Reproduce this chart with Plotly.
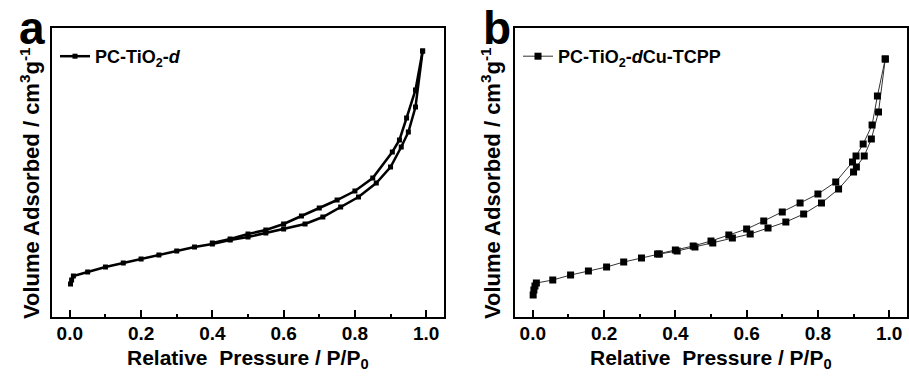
import plotly.graph_objects as go

# Panel a: PC-TiO2-d (relative volume units)
a_ads_p = [0.002, 0.005, 0.01, 0.05, 0.10, 0.15, 0.20, 0.25, 0.30, 0.35, 0.40, 0.45, 0.50, 0.55, 0.60,
           0.66, 0.71, 0.76, 0.81, 0.86, 0.90, 0.93, 0.95, 0.97, 0.99]
a_ads_v = [33, 37, 41, 45, 50, 54, 58, 62, 66, 70, 73, 77, 80, 84, 88,
           93, 100, 110, 120, 134, 150, 170, 185, 210, 266]
a_des_p = [0.99, 0.97, 0.945, 0.925, 0.905, 0.85, 0.80, 0.75, 0.70, 0.65, 0.60, 0.55, 0.50, 0.45, 0.40]
a_des_v = [266, 227, 199, 177, 165, 139, 126, 117, 109, 101, 93, 87, 83, 78, 74]

# Panel b: PC-TiO2-d/Cu-TCPP
b_ads_p = [0.001, 0.003, 0.006, 0.01, 0.056, 0.106, 0.156, 0.207, 0.255, 0.305, 0.355, 0.405, 0.455,
           0.505, 0.56, 0.61, 0.66, 0.71, 0.76, 0.81, 0.858, 0.90, 0.908, 0.93, 0.95, 0.97, 0.989]
b_ads_v = [22, 27, 31, 34, 37, 42, 46, 50, 55, 59, 63, 66, 70,
           74, 79, 83, 89, 95, 103, 114, 128, 145, 150, 161, 178, 205, 258]
b_des_p = [0.989, 0.967, 0.952, 0.927, 0.907, 0.897, 0.85, 0.80, 0.75, 0.70, 0.648, 0.60, 0.55,
           0.50, 0.45, 0.40, 0.35]
b_des_v = [258, 221, 192, 173, 161, 155, 135, 123, 114, 105, 96, 88, 82,
           76, 71, 67, 63]

x_ticks = [0.0, 0.2, 0.4, 0.6, 0.8, 1.0]
x_ticklabels = ["0.0", "0.2", "0.4", "0.6", "0.8", "1.0"]

name_a = "PC-TiO<sub>2</sub>-<i>d</i>"
name_b = "PC-TiO<sub>2</sub>-<i>d</i>Cu-TCPP"

W, H = 909, 383
ML, MR, MT, MB = 52, 2, 28, 66
PW = W - ML - MR
PH = H - MT - MB


def px(x):
    return (x - ML) / PW


def py(y):
    return (H - MB - y) / PH


fig = go.Figure()

# panel a
fig.add_trace(go.Scatter(
    x=a_ads_p, y=a_ads_v, mode="lines+markers", name=name_a,
    line=dict(color="black", width=2.5), marker=dict(symbol="square", size=5, color="black"),
    xaxis="x", yaxis="y", legend="legend"))
fig.add_trace(go.Scatter(
    x=a_des_p, y=a_des_v, mode="lines+markers", name=name_a, showlegend=False,
    line=dict(color="black", width=2.5), marker=dict(symbol="square", size=5, color="black"),
    xaxis="x", yaxis="y"))

# panel b
fig.add_trace(go.Scatter(
    x=b_ads_p, y=b_ads_v, mode="lines+markers", name=name_b,
    line=dict(color="#333333", width=1), marker=dict(symbol="square", size=7, color="black"),
    xaxis="x2", yaxis="y2", legend="legend2"))
fig.add_trace(go.Scatter(
    x=b_des_p, y=b_des_v, mode="lines+markers", name=name_b, showlegend=False,
    line=dict(color="#333333", width=1), marker=dict(symbol="square", size=7, color="black"),
    xaxis="x2", yaxis="y2"))

font_b = "Liberation Sans"

xax = dict(range=[-0.05, 1.05], tickvals=x_ticks, ticktext=x_ticklabels,
           ticks="inside", ticklen=7, tickwidth=2, tickcolor="black", ticklabelstandoff=-2,
           minor=dict(dtick=0.1, tick0=0, ticks="inside", ticklen=3, tickwidth=2, tickcolor="black"),
           showline=True, linecolor="black", linewidth=2, mirror=True,
           showgrid=False, zeroline=False,
           tickfont=dict(family=font_b, size=19, color="black", weight="bold"))
yax = dict(range=[0, 289], showticklabels=False, ticks="", showline=True, linecolor="black",
           linewidth=2, mirror=True, showgrid=False, zeroline=False)

legfont = dict(family=font_b, size=18, color="black", weight="bold")

fig.update_layout(
    width=W, height=H,
    margin=dict(l=ML, r=MR, t=MT, b=MB, autoexpand=False),
    paper_bgcolor="white", plot_bgcolor="white",
    xaxis=dict(domain=[0, px(444)], anchor="y", **xax),
    yaxis=dict(domain=[0, 1], anchor="x", **yax),
    xaxis2=dict(domain=[px(515), 1.0], anchor="y2", **xax),
    yaxis2=dict(domain=[0, 1], anchor="x2", **yax),
    legend=dict(x=px(55), y=py(38), xanchor="left", yanchor="top", bgcolor="rgba(0,0,0,0)",
                font=legfont),
    legend2=dict(x=px(518), y=py(38), xanchor="left", yanchor="top", bgcolor="rgba(0,0,0,0)",
                 font=legfont),
    showlegend=True,
)

ann_font = dict(family=font_b, size=21, color="black", weight="bold")
yt_font = dict(family=font_b, size=22, color="black", weight="bold")
annotations = [
    dict(text="Relative  Pressure / P/P<sub>0</sub>", x=px(248), y=py(359), xref="paper", yref="paper",
         showarrow=False, xanchor="center", yanchor="middle", font=ann_font),
    dict(text="Relative  Pressure / P/P<sub>0</sub>", x=px(711), y=py(359), xref="paper", yref="paper",
         showarrow=False, xanchor="center", yanchor="middle", font=ann_font),
    dict(text="Volume Adsorbed / cm<sup>3</sup>g<sup>-1</sup>", x=px(30), y=py(183), xref="paper",
         yref="paper", showarrow=False, textangle=-90, xanchor="center", yanchor="middle", font=yt_font),
    dict(text="Volume Adsorbed / cm<sup>3</sup>g<sup>-1</sup>", x=px(491), y=py(183), xref="paper",
         yref="paper", showarrow=False, textangle=-90, xanchor="center", yanchor="middle", font=yt_font),
    dict(text="a", x=px(32), y=py(28), xref="paper", yref="paper", showarrow=False,
         xanchor="center", yanchor="middle", font=dict(family=font_b, size=46, color="black", weight="bold")),
    dict(text="b", x=px(497), y=py(28), xref="paper", yref="paper", showarrow=False,
         xanchor="center", yanchor="middle", font=dict(family=font_b, size=46, color="black", weight="bold")),
]
fig.update_layout(annotations=annotations)

fig.write_html("out.html")
